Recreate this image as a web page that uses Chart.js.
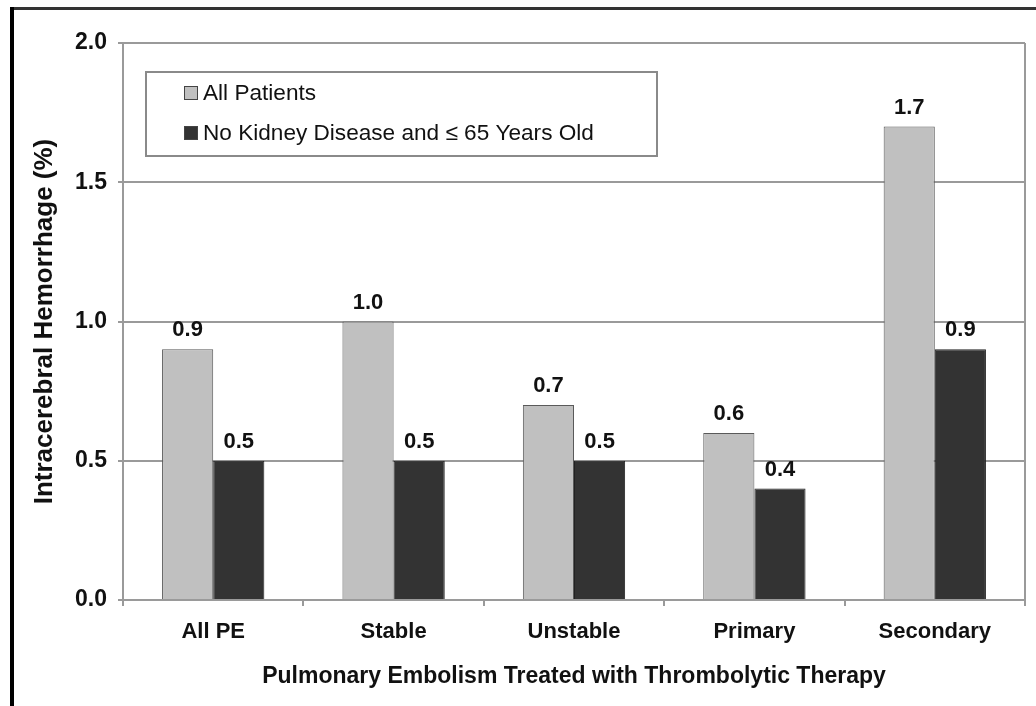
<!DOCTYPE html>
<html>
<head>
<meta charset="utf-8">
<script src="https://cdn.jsdelivr.net/npm/chart.js@4.4.1/dist/chart.umd.min.js"></script>
<style>
  html, body { margin: 0; padding: 0; background: #fff; }
  #wrap { width: 1036px; height: 706px; position: relative; }
</style>
</head>
<body>
<div id="wrap"><canvas id="c" width="1036" height="706"></canvas></div>
<script>
const categories = ["All PE", "Stable", "Unstable", "Primary", "Secondary"];
const allPatients = [0.9, 1.0, 0.7, 0.6, 1.7];
const noKidney = [0.5, 0.5, 0.5, 0.4, 0.9];
const seriesNames = ["All Patients", "No Kidney Disease and \u2264 65 Years Old"];
const yTicks = [0, 0.5, 1.0, 1.5, 2.0];
const yTitle = "Intracerebral Hemorrhage (%)";
const xTitle = "Pulmonary Embolism Treated with Thrombolytic Therapy";

const FONT = "'Liberation Sans', Arial, Helvetica, sans-serif";
const GRID = '#9a9a9a';

const framePlugin = {
  id: 'frame',
  afterDraw(chart) {
    const ctx = chart.ctx;
    const a = chart.chartArea;
    ctx.save();
    ctx.strokeStyle = GRID;
    ctx.lineWidth = 2;
    ctx.beginPath();
    ctx.moveTo(a.right, a.top);
    ctx.lineTo(a.right, a.bottom + 6);
    ctx.stroke();
    ctx.fillStyle = '#333';
    ctx.fillRect(10, 7, 1026, 3);
    ctx.fillStyle = '#000';
    ctx.fillRect(10, 7, 4, 699);
    ctx.restore();
  }
};

const labelPlugin = {
  id: 'valueLabels',
  afterDatasetsDraw(chart) {
    const ctx = chart.ctx;
    ctx.save();
    ctx.font = "bold 22px " + FONT;
    ctx.fillStyle = '#111';
    ctx.textAlign = 'center';
    ctx.textBaseline = 'alphabetic';
    chart.data.datasets.forEach((ds, i) => {
      const meta = chart.getDatasetMeta(i);
      meta.data.forEach((bar, j) => {
        ctx.fillText(ds.data[j].toFixed(1), bar.x, bar.y - 13);
      });
    });
    ctx.restore();
  }
};

const legendPlugin = {
  id: 'boxLegend',
  afterDraw(chart) {
    const ctx = chart.ctx;
    ctx.save();
    ctx.fillStyle = '#fff';
    ctx.fillRect(146, 72, 511, 84);
    ctx.strokeStyle = '#8a8a8a';
    ctx.lineWidth = 2;
    ctx.strokeRect(146, 72, 511, 84);
    const rows = [93, 133];
    ctx.font = "22.6px " + FONT;
    ctx.textBaseline = 'middle';
    ctx.textAlign = 'left';
    chart.data.datasets.forEach((ds, i) => {
      const y = rows[i];
      ctx.fillStyle = ds.backgroundColor;
      ctx.fillRect(184, y - 7, 14, 14);
      ctx.strokeStyle = '#444';
      ctx.lineWidth = 1;
      ctx.strokeRect(184.5, y - 6.5, 13, 13);
      ctx.fillStyle = '#111';
      ctx.fillText(ds.label, 203, y + 1);
    });
    ctx.restore();
  }
};

new Chart(document.getElementById('c'), {
  type: 'bar',
  data: {
    labels: categories,
    datasets: [
      { label: seriesNames[0], data: allPatients, backgroundColor: '#c0c0c0', borderColor: '#5a5a5a', borderWidth: 1, borderSkipped: 'bottom' },
      { label: seriesNames[1], data: noKidney, backgroundColor: '#333333', borderColor: '#222', borderWidth: 1, borderSkipped: 'bottom' }
    ]
  },
  options: {
    responsive: false,
    animation: false,
    devicePixelRatio: 1,
    layout: { padding: { left: 20, right: 11, top: 43, bottom: 0 } },
    plugins: { legend: { display: false }, tooltip: { enabled: false } },
    datasets: { bar: { categoryPercentage: 0.567, barPercentage: 1.0 } },
    scales: {
      x: {
        offset: true,
        grid: { display: true, drawOnChartArea: false, offset: true, color: GRID, lineWidth: 2, tickLength: 6 },
        border: { display: true, color: GRID, width: 2 },
        ticks: { color: '#111', font: { family: FONT, size: 22, weight: 'bold' }, padding: 13, maxRotation: 0 },
        title: { display: true, text: xTitle, color: '#111', font: { family: FONT, size: 23, weight: 'bold' }, padding: { top: 0, bottom: 16 } },
        afterFit(s) { s.height = 106; }
      },
      y: {
        min: 0, max: 2.0,
        afterBuildTicks(s) { s.ticks = yTicks.map(v => ({ value: v })); },
        grid: { color: GRID, lineWidth: 2, tickLength: 5 },
        border: { display: true, color: GRID, width: 2 },
        ticks: { color: '#111', font: { family: FONT, size: 23, weight: 'bold' }, padding: 11, callback: v => v.toFixed(1) },
        title: { display: true, text: yTitle, color: '#111', font: { family: FONT, size: 26, weight: 'bold' }, padding: { top: 9, bottom: 0 } },
        afterFit(s) { s.width = 103; }
      }
    }
  },
  plugins: [framePlugin, labelPlugin, legendPlugin]
});
</script>
</body>
</html>
